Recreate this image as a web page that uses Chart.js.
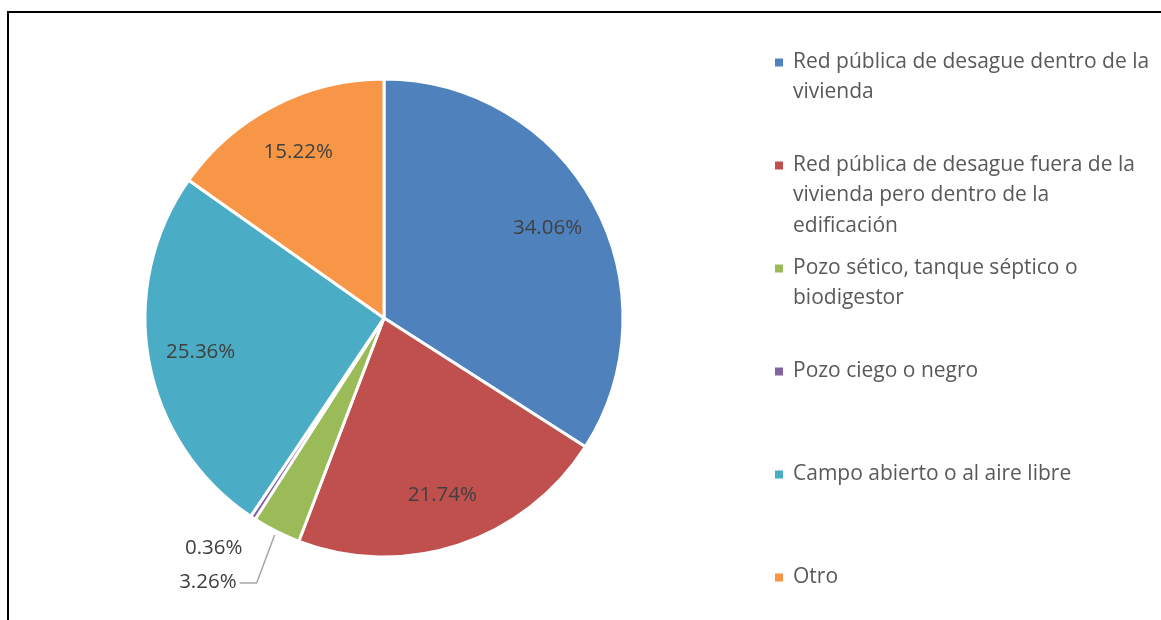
<!DOCTYPE html>
<html lang="es">
<head>
  <meta charset="UTF-8">
  <title>Eliminación de excretas</title>
  <script src="https://cdn.jsdelivr.net/npm/chart.js"></script>
  <style>
    html, body {
      margin: 0;
      padding: 0;
      background: #fff;
    }
    .hoja {
      position: relative;
      width: 1161px;
      height: 620px;
      overflow: hidden;
    }
    .marco {
      position: absolute;
      left: 7px;
      top: 11px;
      right: -10px;
      bottom: -10px;
      border-top: 2px solid #000;
      border-left: 2px solid #000;
    }
    #grafico {
      position: absolute;
      left: 0;
      top: 0;
    }
  </style>
</head>
<body>

<div class="hoja">
  <div class="marco"></div>
  <canvas id="grafico" width="1161" height="620"></canvas>
</div>

<script>
  // categorias (con el corte de linea del texto de la leyenda)
  const categorias = [
    ['Red pública de desague dentro de la', 'vivienda'],
    ['Red pública de desague fuera de la', 'vivienda pero dentro de la', 'edificación'],
    ['Pozo sético, tanque séptico o', 'biodigestor'],
    ['Pozo ciego o negro'],
    ['Campo abierto o al aire libre'],
    ['Otro']
  ];
  const porcentajes = [34.06, 21.74, 3.26, 0.36, 25.36, 15.22];
  const colores = ['#4F81BD', '#C0504D', '#9BBB59', '#8064A2', '#4BACC6', '#F79646'];

  const fuente = '"Open Sans", sans-serif';

  // etiquetas de porcentaje sobre cada sector
  const etiquetasPlugin = {
    id: 'etiquetas',
    afterDatasetsDraw(chart) {
      const ctx = chart.ctx;
      const arcos = chart.getDatasetMeta(0).data;
      ctx.save();
      ctx.font = '20.5px ' + fuente;
      ctx.fillStyle = '#404040';
      ctx.textBaseline = 'middle';
      arcos.forEach((arco, i) => {
        const p = arco.getProps(['x', 'y', 'startAngle', 'endAngle', 'outerRadius'], true);
        const medio = (p.startAngle + p.endAngle) / 2;
        const texto = porcentajes[i].toFixed(2) + '%';
        if (porcentajes[i] >= 5) {
          const r = p.outerRadius * 0.78;
          ctx.textAlign = 'center';
          ctx.fillText(texto, p.x + Math.cos(medio) * r, p.y + Math.sin(medio) * r);
        } else {
          const bx = p.x + Math.cos(medio) * (p.outerRadius + 4);
          const by = p.y + Math.sin(medio) * (p.outerRadius + 4);
          if (porcentajes[i] < 1) {
            ctx.textAlign = 'center';
            ctx.fillText(texto, bx - 37, by + 27);
          } else {
            // linea guia hasta la etiqueta
            ctx.strokeStyle = '#A6A6A6';
            ctx.lineWidth = 1.5;
            ctx.beginPath();
            ctx.moveTo(bx, by);
            ctx.lineTo(bx - 18, by + 48);
            ctx.lineTo(bx - 35, by + 48);
            ctx.stroke();
            ctx.textAlign = 'right';
            ctx.fillText(texto, bx - 38, by + 47);
          }
        }
      });
      ctx.restore();
    }
  };

  // leyenda a la derecha con texto en varias lineas
  const leyendaPlugin = {
    id: 'leyendaDerecha',
    afterDraw(chart) {
      const ctx = chart.ctx;
      const x0 = 775;
      const y0 = 62;
      const paso = 103;
      const interlinea = 30.5;
      ctx.save();
      ctx.font = '21px ' + fuente;
      ctx.textBaseline = 'middle';
      ctx.textAlign = 'left';
      categorias.forEach((lineas, i) => {
        const y = y0 + i * paso;
        ctx.fillStyle = colores[i];
        ctx.fillRect(x0, y - 3.5, 8, 8);
        ctx.fillStyle = '#595959';
        lineas.forEach((t, j) => {
          ctx.fillText(t, x0 + 18, y + j * interlinea);
        });
      });
      ctx.restore();
    }
  };

  new Chart(document.getElementById('grafico'), {
    type: 'pie',
    data: {
      labels: categorias.map(c => c.join(' ')),
      datasets: [{
        data: porcentajes,
        backgroundColor: colores,
        borderColor: '#FFFFFF',
        borderWidth: 3,
        radius: 239
      }]
    },
    options: {
      responsive: false,
      animation: false,
      layout: {
        padding: { left: 0, right: 393, top: 16, bottom: 0 }
      },
      plugins: {
        legend: { display: false },
        tooltip: { enabled: false }
      }
    },
    plugins: [etiquetasPlugin, leyendaPlugin]
  });
</script>

</body>
</html>
